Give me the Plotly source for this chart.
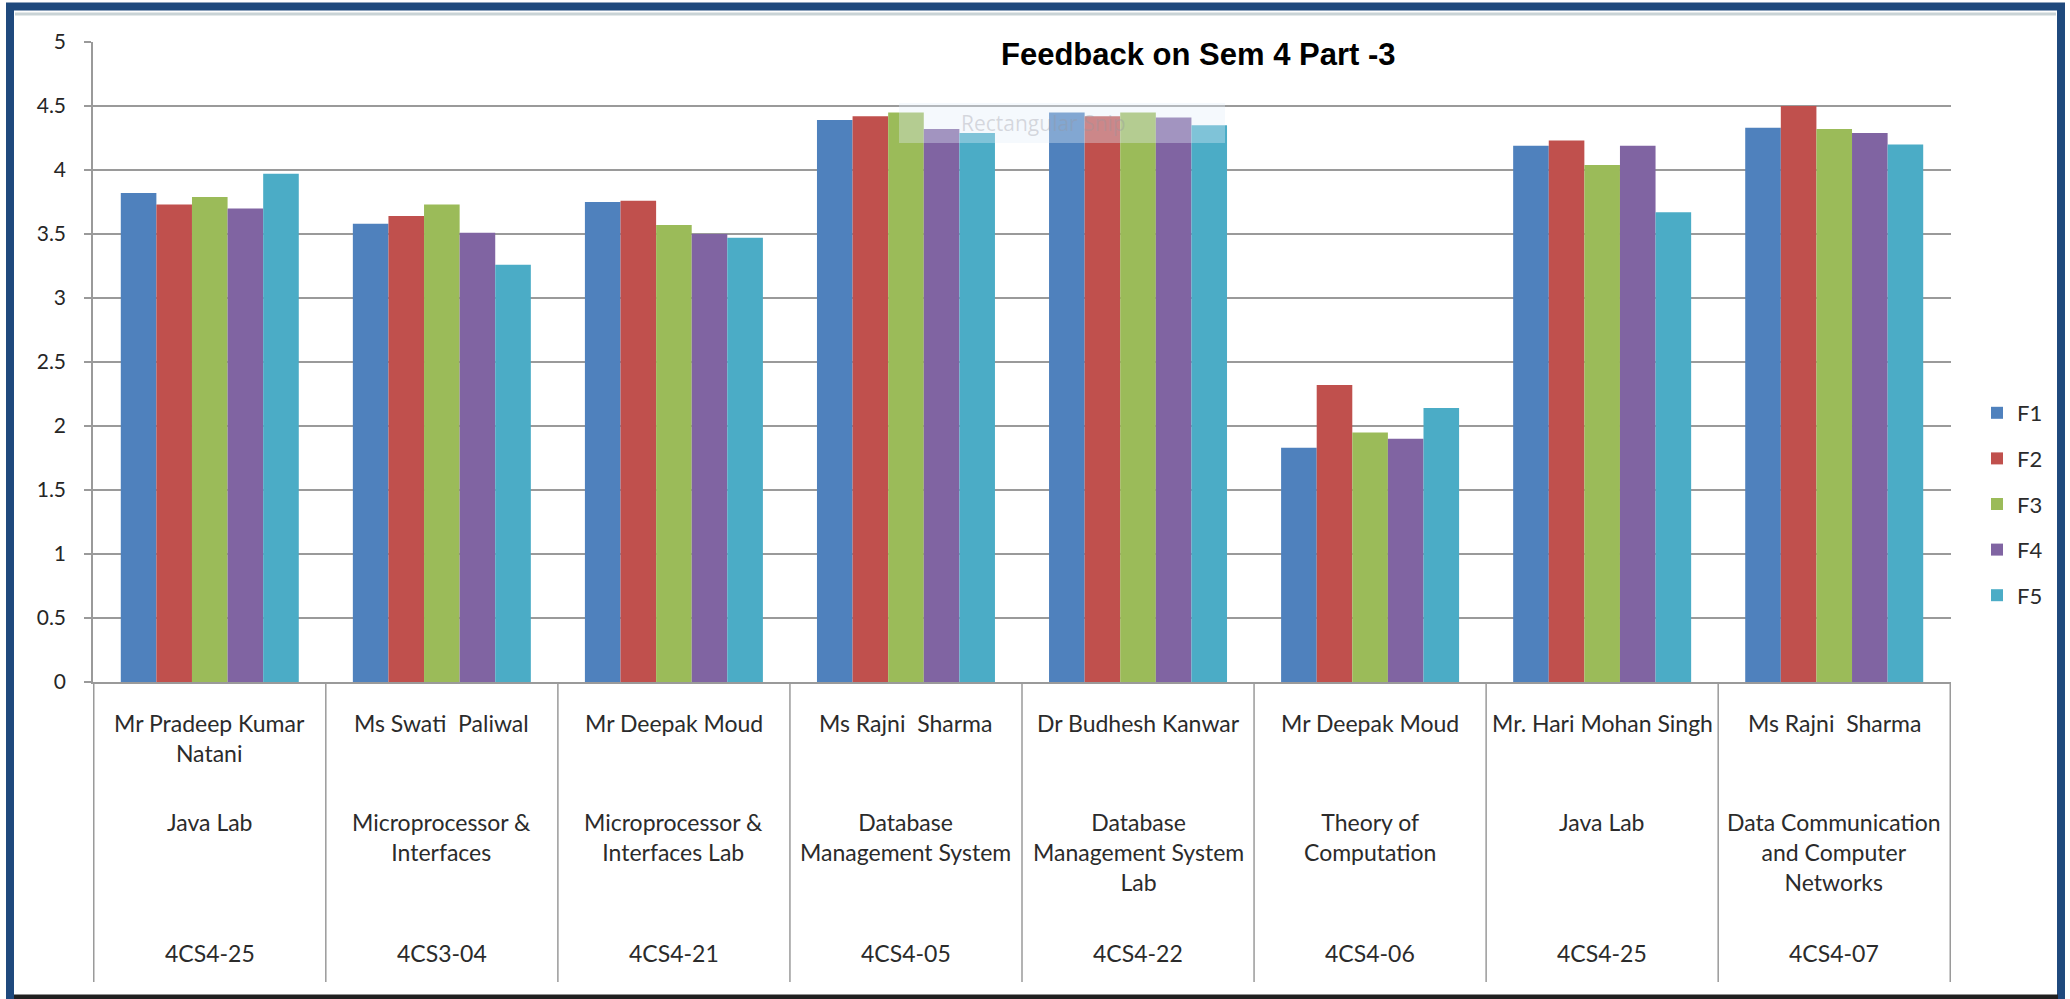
import plotly.graph_objects as go

# category labels (three levels, as in the Excel multi-level axis)
teachers = ["Mr Pradeep Kumar<br>Natani", "Ms Swati  Paliwal", "Mr Deepak Moud", "Ms Rajni  Sharma",
            "Dr Budhesh Kanwar", "Mr Deepak Moud", "Mr. Hari Mohan Singh", "Ms Rajni  Sharma"]
subjects = ["Java Lab", "Microprocessor &<br>Interfaces", "Microprocessor &<br>Interfaces Lab",
            "Database<br>Management System", "Database<br>Management System<br>Lab",
            "Theory of<br>Computation", "Java Lab", "Data Communication<br>and Computer<br>Networks"]
codes = ["4CS4-25", "4CS3-04", "4CS4-21", "4CS4-05", "4CS4-22", "4CS4-06", "4CS4-25", "4CS4-07"]

series_names = ["F1", "F2", "F3", "F4", "F5"]
f1 = [3.82, 3.58, 3.75, 4.39, 4.45, 1.83, 4.19, 4.33]
f2 = [3.73, 3.64, 3.76, 4.42, 4.42, 2.32, 4.23, 4.50]
f3 = [3.79, 3.73, 3.57, 4.45, 4.45, 1.95, 4.04, 4.32]
f4 = [3.70, 3.51, 3.50, 4.32, 4.41, 1.90, 4.19, 4.29]
f5 = [3.97, 3.26, 3.47, 4.29, 4.35, 2.14, 3.67, 4.20]
colors = ["#4F81BD", "#C0504D", "#9BBB59", "#8064A2", "#4BACC6"]

W, H = 2070, 999
L, R, T, B = 93, 1951, 42, 682  # plot area in pixels

def px_x(p):
    return (p - L) / (R - L)

def px_y(p):
    return (B - p) / (B - T)

cats = [f"{t} | {s} | {c}" for t, s, c in zip(teachers, subjects, codes)]

fig = go.Figure()
for name, vals, col in zip(series_names, [f1, f2, f3, f4, f5], colors):
    fig.add_trace(go.Bar(x=cats, y=vals, name=name, marker_color=col,
                         marker_line_width=0, legendgroup=name))

grid = "#9a9a9a"
fig.update_layout(
    width=W, height=H,
    margin=dict(l=L, r=W - R, t=T, b=H - B, autoexpand=False),
    paper_bgcolor="white", plot_bgcolor="white",
    barmode="group", bargap=0.233, bargroupgap=0,
    font=dict(family="Lato", size=23, color="#2b2b2b"),
    showlegend=True,
    legend=dict(x=px_x(1977), xanchor="left", y=px_y(392), yanchor="top",
                font=dict(family="Lato", size=22, color="#2b2b2b"),
                tracegroupgap=14, bgcolor="rgba(0,0,0,0)"),
    xaxis=dict(showticklabels=False, showline=True, linecolor=grid, linewidth=1.5,
               showgrid=False, ticks=""),
    yaxis=dict(range=[0, 5], dtick=0.5, showline=True, linecolor=grid, linewidth=1.5,
               gridcolor=grid, gridwidth=1.5, ticks="outside", ticklen=7, tickcolor=grid,
               tickwidth=1.5, zeroline=False, ticklabelstandoff=14,
               tickfont=dict(family="Lato", size=21, color="#262626")),
)

# dividers of the category axis
for i in range(len(cats) + 1):
    fig.add_shape(type="line", xref="x", yref="paper", x0=i - 0.5, x1=i - 0.5,
                  y0=0, y1=px_y(982), line=dict(color=grid, width=1.5))

# three-level category labels
for c, t, s, k in zip(cats, teachers, subjects, codes):
    fig.add_annotation(x=c, y=0, yref="paper", text=t, showarrow=False,
                       yanchor="top", yshift=-25, align="center")
    fig.add_annotation(x=c, y=0, yref="paper", text=s, showarrow=False,
                       yanchor="top", yshift=-124, align="center")
    fig.add_annotation(x=c, y=0, yref="paper", text=k, showarrow=False,
                       yanchor="middle", yshift=-271, align="center")

# title sits in a white box that cuts the top gridline
fig.add_shape(type="rect", xref="paper", yref="paper", x0=px_x(979), x1=px_x(1513),
              y0=px_y(80), y1=px_y(28), fillcolor="white", line_width=0, layer="above")
fig.add_annotation(xref="paper", yref="paper", x=px_x(999), y=px_y(54), xanchor="left",
                   yanchor="middle", showarrow=False, text="<b>Feedback on Sem 4 Part -3</b>",
                   font=dict(family="Liberation Sans, Arial", size=31, color="black"))

# faint screenshot overlay left in the source picture
fig.add_shape(type="rect", xref="paper", yref="paper", x0=px_x(899), x1=px_x(1225),
              y0=px_y(143), y1=px_y(103), fillcolor="rgba(225,238,250,0.35)",
              line_width=0, layer="above")
fig.add_annotation(xref="paper", yref="paper", x=px_x(959), y=px_y(123), xanchor="left",
                   yanchor="middle", showarrow=False, text="Rectangular Snip",
                   font=dict(family="Open Sans", size=21, color="rgba(150,150,160,0.35)"))

# outer frame
fig.add_shape(type="rect", xref="paper", yref="paper", x0=px_x(10), x1=px_x(2061),
              y0=px_y(1002), y1=px_y(6.5), line=dict(color="#1F497D", width=8),
              fillcolor="rgba(0,0,0,0)", layer="above")
fig.add_shape(type="line", xref="paper", yref="paper", x0=px_x(15), x1=px_x(2056),
              y0=px_y(14), y1=px_y(14), line=dict(color="#c9d3d6", width=3))
fig.add_shape(type="line", xref="paper", yref="paper", x0=px_x(14), x1=px_x(2058),
              y0=px_y(997), y1=px_y(997), line=dict(color="#202020", width=5))

# the page's default body margin would shift the figure by 8px
fig.write_html("out.html", config={"displayModeBar": False},
               post_script="document.body.style.margin='0';")
